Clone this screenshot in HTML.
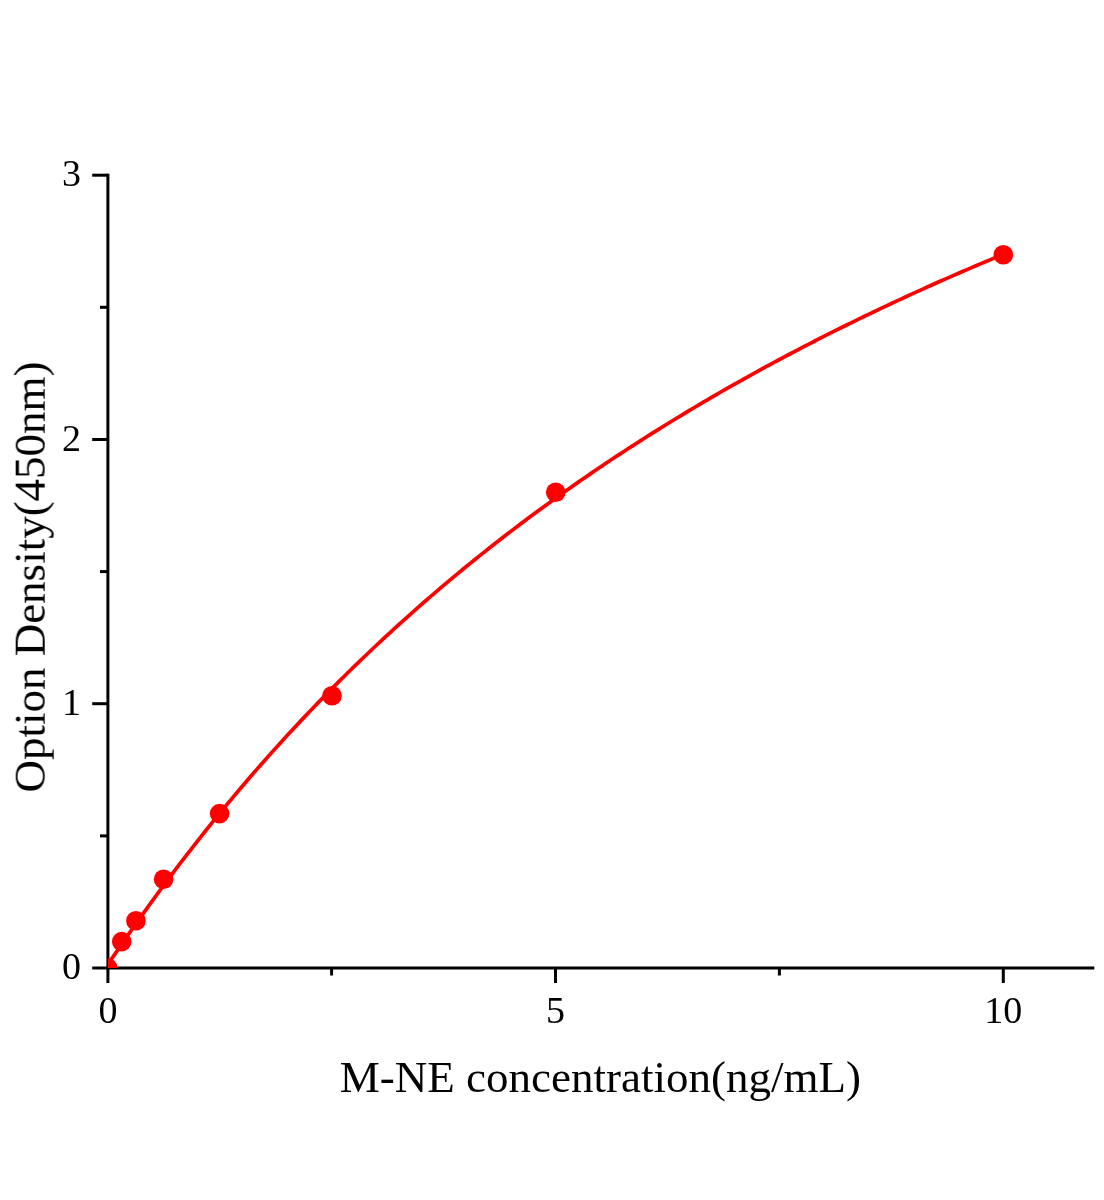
<!DOCTYPE html>
<html><head><meta charset="utf-8"><title>Standard curve</title>
<style>
html,body{margin:0;padding:0;background:#fff;}
body{width:1104px;height:1200px;overflow:hidden;}
svg{display:block;}
text{font-family:"Liberation Serif",serif;fill:#000;}
.g{opacity:0.999;}
.tk{font-size:38px;}
.tt{font-size:45px;}
</style></head><body>
<svg width="1104" height="1200" viewBox="0 0 1104 1200">
<rect width="1104" height="1200" fill="#fff"/>
<defs><clipPath id="pa"><rect x="108.4" y="100" width="990" height="868"/></clipPath></defs>
<g stroke="#000" stroke-width="3" fill="none" stroke-linecap="butt">
<!-- y axis -->
<line x1="107.9" y1="173.7" x2="107.9" y2="983"/>
<!-- x axis -->
<line x1="92.2" y1="968" x2="1094.3" y2="968"/>
<!-- y major ticks -->
<line x1="92.2" y1="175.2" x2="108" y2="175.2"/>
<line x1="92.2" y1="439.5" x2="108" y2="439.5"/>
<line x1="92.2" y1="703.7" x2="108" y2="703.7"/>
<!-- y minor ticks -->
<line x1="100" y1="307.3" x2="108" y2="307.3"/>
<line x1="100" y1="571.6" x2="108" y2="571.6"/>
<line x1="100" y1="835.9" x2="108" y2="835.9"/>
<!-- x major ticks -->
<line x1="555.5" y1="968" x2="555.5" y2="983"/>
<line x1="1003.3" y1="968" x2="1003.3" y2="983"/>
<!-- x minor ticks -->
<line x1="331.6" y1="968" x2="331.6" y2="975.5"/>
<line x1="779.4" y1="968" x2="779.4" y2="975.5"/>
</g>
<g class="g">
<g class="tk" text-anchor="end">
<text x="81" y="186.2">3</text>
<text x="81" y="450.5">2</text>
<text x="81" y="714.7">1</text>
<text x="81" y="979">0</text>
</g>
<g class="tk" text-anchor="middle">
<text x="108" y="1023.3">0</text>
<text x="555.5" y="1023.3">5</text>
<text x="1003.3" y="1023.3">10</text>
</g>
<text class="tt" text-anchor="middle" x="600.4" y="1091.8">M-NE concentration(ng/mL)</text>
<text class="tt" text-anchor="middle" transform="translate(44.7,577) rotate(-90)">Option Density(450nm)</text>
</g>
<g clip-path="url(#pa)">
<polyline fill="none" stroke="#ff0000" stroke-width="3.7" stroke-linejoin="round" points="107.70,964.51 109.49,961.93 111.28,959.32 113.07,956.71 114.87,954.10 116.66,951.49 118.45,948.89 120.24,946.29 122.03,943.69 123.82,941.10 125.61,938.52 127.41,935.94 129.20,933.37 130.99,930.81 132.78,928.26 134.57,925.71 136.36,923.17 138.15,920.63 139.95,918.11 141.74,915.59 143.53,913.08 145.32,910.58 147.11,908.08 148.90,905.59 150.69,903.11 152.49,900.64 156.96,894.49 161.44,888.40 165.92,882.34 170.40,876.34 174.88,870.39 179.36,864.48 183.83,858.61 188.31,852.80 192.79,847.03 197.27,841.31 201.75,835.63 206.23,830.00 210.71,824.41 215.18,818.87 219.66,813.37 224.14,807.91 228.62,802.50 233.10,797.12 237.58,791.80 242.06,786.51 246.53,781.26 251.01,776.06 255.49,770.89 259.97,765.77 264.45,760.68 268.93,755.64 273.40,750.63 277.88,745.66 282.36,740.73 286.84,735.84 291.32,730.98 295.80,726.16 300.28,721.38 304.75,716.63 309.23,711.92 313.71,707.24 318.19,702.60 322.67,697.99 327.15,693.42 331.62,688.88 336.10,684.37 340.58,679.90 345.06,675.46 349.54,671.05 354.02,666.68 358.50,662.33 362.97,658.02 367.45,653.74 371.93,649.49 376.41,645.27 380.89,641.08 385.37,636.92 389.85,632.79 394.32,628.69 398.80,624.61 403.28,620.57 407.76,616.55 412.24,612.56 416.72,608.60 421.19,604.67 425.67,600.77 430.15,596.89 434.63,593.04 439.11,589.21 443.59,585.41 448.07,581.64 452.54,577.89 457.02,574.17 461.50,570.47 465.98,566.79 470.46,563.15 474.94,559.52 479.42,555.92 483.89,552.35 488.37,548.79 492.85,545.27 497.33,541.76 501.81,538.28 506.29,534.82 510.76,531.38 515.24,527.96 519.72,524.57 524.20,521.20 528.68,517.85 533.16,514.52 537.64,511.22 542.11,507.93 546.59,504.67 551.07,501.42 555.55,498.20 560.03,495.00 564.51,491.81 568.99,488.65 573.46,485.51 577.94,482.38 582.42,479.28 586.90,476.19 591.38,473.13 595.86,470.08 600.34,467.05 604.81,464.04 609.29,461.05 613.77,458.08 618.25,455.12 622.73,452.18 627.21,449.26 631.68,446.36 636.16,443.48 640.64,440.61 645.12,437.76 649.60,434.92 654.08,432.11 658.56,429.31 663.03,426.52 667.51,423.76 671.99,421.00 676.47,418.27 680.95,415.55 685.43,412.85 689.90,410.16 694.38,407.49 698.86,404.83 703.34,402.19 707.82,399.56 712.30,396.95 716.78,394.35 721.25,391.77 725.73,389.21 730.21,386.65 734.69,384.11 739.17,381.59 743.65,379.08 748.13,376.58 752.60,374.10 757.08,371.63 761.56,369.18 766.04,366.74 770.52,364.31 775.00,361.90 779.48,359.50 783.95,357.11 788.43,354.74 792.91,352.37 797.39,350.03 801.87,347.69 806.35,345.37 810.82,343.05 815.30,340.76 819.78,338.47 824.26,336.20 828.74,333.93 833.22,331.68 837.70,329.45 842.17,327.22 846.65,325.01 851.13,322.80 855.61,320.61 860.09,318.43 864.57,316.26 869.04,314.11 873.52,311.96 878.00,309.83 882.48,307.70 886.96,305.59 891.44,303.49 895.92,301.40 900.39,299.32 904.87,297.25 909.35,295.19 913.83,293.14 918.31,291.10 922.79,289.07 927.27,287.05 931.74,285.05 936.22,283.05 940.70,281.06 945.18,279.08 949.66,277.12 954.14,275.16 958.62,273.21 963.09,271.27 967.57,269.34 972.05,267.42 976.53,265.51 981.01,263.61 985.49,261.72 989.96,259.84 994.44,257.96 998.92,256.10 1003.40,254.24"/>
<g fill="#ff0000">
<circle cx="107.7" cy="968.0" r="9.8"/>
<circle cx="121.7" cy="941.6" r="9.8"/>
<circle cx="135.9" cy="920.7" r="9.8"/>
<circle cx="163.6" cy="879.2" r="9.8"/>
<circle cx="219.6" cy="813.6" r="9.8"/>
<circle cx="332.0" cy="695.8" r="9.8"/>
<circle cx="555.7" cy="492.2" r="9.8"/>
<circle cx="1003.3" cy="254.7" r="9.8"/>
</g>
</g>
</svg>
</body></html>
